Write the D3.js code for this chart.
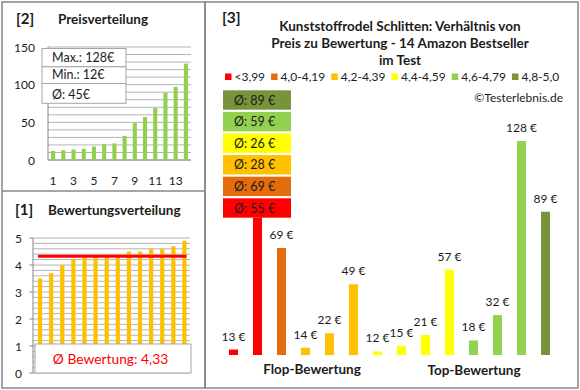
<!DOCTYPE html>
<html>
<head>
<meta charset="utf-8">
<script src="https://cdn.jsdelivr.net/npm/d3@7"></script>
<style>
  body { margin: 0; background: #fff; }
  svg { display: block; font-family: "Lato", "Open Sans", sans-serif; }
</style>
</head>
<body>
<script>
// Chart data
const sortedPrices = [12, 13, 14, 15, 18, 21, 22, 32, 49, 57, 69, 89, 97, 128];
const sortedRatings = [3.5, 3.7, 4.0, 4.2, 4.3, 4.3, 4.4, 4.4, 4.5, 4.5, 4.6, 4.6, 4.7, 4.9];
const priceTicks = [0, 50, 100, 150];
const ratingTicks = [0, 1, 2, 3, 4, 5];
const rankTickLabels = [1, 3, 5, 7, 9, 11, 13];

// products ordered by rating, with their rating class
const productPrices = [13, 97, 69, 14, 22, 49, 12, 15, 21, 57, 18, 32, 128, 89];
const productClass = [0, 0, 1, 2, 2, 2, 3, 3, 3, 3, 4, 4, 4, 5];
const classLabels = ["<3,99", "4,0-4,19", "4,2-4,39", "4,4-4,59", "4,6-4,79", "4,8-5,0"];
const classColors = ["#ff0000", "#e46c0a", "#ffc000", "#ffff00", "#92d050", "#77933c"];

const titleLines = [
    "Kunststoffrodel Schlitten: Verhältnis von",
    "Preis zu Bewertung - 14 Amazon Bestseller",
    "im Test"
];

const width = 580;
const height = 390;
const frameColor = "#878787";
const gridColor = "#b4b4b4";
const textColor = "#1c1c1c";

const svg = d3.select("body").append("svg")
    .attr("width", width)
    .attr("height", height);

// Panel frames
svg.append("rect").attr("x", 2).attr("y", 2).attr("width", 203).attr("height", 386)
    .attr("fill", "none").attr("stroke", frameColor).attr("stroke-width", 1.5);
svg.append("line").attr("x1", 2).attr("x2", 205).attr("y1", 191).attr("y2", 191)
    .attr("stroke", frameColor).attr("stroke-width", 1.5);
svg.append("rect").attr("x", 205).attr("y", 2).attr("width", 373).attr("height", 386)
    .attr("fill", "none").attr("stroke", frameColor).attr("stroke-width", 1.5);

function panelTitle(num, x, label, lx, y) {
    svg.append("text").attr("x", x).attr("y", y).text(num)
        .attr("font-size", 15).attr("font-weight", "bold").attr("fill", textColor);
    svg.append("text").attr("x", lx).attr("y", y).text(label)
        .attr("font-size", 13.5).attr("font-weight", "bold").attr("fill", textColor);
}

/**
 * [2] Preisverteilung
 */
function drawPriceDistribution() {
    panelTitle("[2]", 16, "Preisverteilung", 58, 23.5);

    const x = d3.scaleBand().domain(d3.range(sortedPrices.length))
        .range([48, 191]).paddingInner(0.6).paddingOuter(0.3);
    const y = d3.scaleLinear().domain([0, 150]).range([160, 47]);

    const g = svg.append("g");
    g.selectAll("line.grid").data(d3.range(0, 151, 10)).enter().append("line")
        .attr("x1", 48).attr("x2", 191)
        .attr("y1", (d) => y(d)).attr("y2", (d) => y(d))
        .attr("stroke", gridColor).attr("stroke-width", 1);

    g.append("line").attr("x1", 48).attr("x2", 48).attr("y1", y(150)).attr("y2", y(0))
        .attr("stroke", frameColor);
    g.append("line").attr("x1", 48).attr("x2", 191).attr("y1", y(0)).attr("y2", y(0))
        .attr("stroke", frameColor);

    g.selectAll("text.ytick").data(priceTicks).enter().append("text")
        .attr("x", 35).attr("y", (d) => y(d) + 4.5)
        .attr("text-anchor", "end").attr("font-size", 12).attr("fill", textColor)
        .text((d) => d);

    g.selectAll("text.xtick").data(rankTickLabels).enter().append("text")
        .attr("x", (d) => x(d - 1) + x.bandwidth() / 2).attr("y", 184.5)
        .attr("text-anchor", "middle").attr("font-size", 12).attr("fill", textColor)
        .text((d) => d);

    g.selectAll("rect.bar").data(sortedPrices).enter().append("rect")
        .attr("x", (d, i) => x(i)).attr("width", x.bandwidth())
        .attr("y", (d) => y(d)).attr("height", (d) => y(0) - y(d))
        .attr("fill", "#92d050");

    // statistics box
    const stats = [
        "Max.: " + d3.max(sortedPrices) + "€",
        "Min.: " + d3.min(sortedPrices) + "€",
        "Ø: " + Math.round(d3.mean(sortedPrices)) + "€"
    ];
    const rowTops = [48.5, 66.8, 83.5, 103.3];
    stats.forEach((s, i) => {
        g.append("rect").attr("x", 42).attr("y", rowTops[i])
            .attr("width", 84).attr("height", rowTops[i + 1] - rowTops[i])
            .attr("fill", "#fff").attr("stroke", "#a6a6a6").attr("stroke-width", 1);
        g.append("text").attr("x", 52).attr("y", rowTops[i + 1] - 4.5)
            .attr("font-size", 12.5).attr("fill", textColor).text(s);
    });
}

/**
 * [1] Bewertungsverteilung
 */
function drawRatingDistribution() {
    panelTitle("[1]", 15, "Bewertungsverteilung", 48, 215);

    const x = d3.scaleBand().domain(d3.range(sortedRatings.length))
        .range([34.5, 190]).paddingInner(0.62).paddingOuter(0.31);
    const y = d3.scaleLinear().domain([0, 5]).range([373, 238]);

    const g = svg.append("g");
    g.selectAll("line.grid").data(d3.range(0, 26)).enter().append("line")
        .attr("x1", 33).attr("x2", 190)
        .attr("y1", (d) => y(d / 5)).attr("y2", (d) => y(d / 5))
        .attr("stroke", gridColor).attr("stroke-width", 1);

    g.append("line").attr("x1", 33).attr("x2", 33).attr("y1", y(5)).attr("y2", y(0))
        .attr("stroke", frameColor);
    g.selectAll("line.tick").data(ratingTicks).enter().append("line")
        .attr("x1", 29.5).attr("x2", 33)
        .attr("y1", (d) => y(d)).attr("y2", (d) => y(d))
        .attr("stroke", frameColor);

    g.selectAll("text.ytick").data(ratingTicks).enter().append("text")
        .attr("x", 22).attr("y", (d) => y(d) + 4.5)
        .attr("text-anchor", "end").attr("font-size", 12).attr("fill", textColor)
        .text((d) => d);

    g.selectAll("rect.bar").data(sortedRatings).enter().append("rect")
        .attr("x", (d, i) => x(i)).attr("width", x.bandwidth())
        .attr("y", (d) => y(d)).attr("height", (d) => y(0) - y(d))
        .attr("fill", "#ffc000");

    const avg = d3.mean(sortedRatings);
    g.append("line")
        .attr("x1", x(0)).attr("x2", x(sortedRatings.length - 1) + x.bandwidth())
        .attr("y1", y(avg)).attr("y2", y(avg))
        .attr("stroke", "#ff0000").attr("stroke-width", 3);

    g.append("rect").attr("x", 35).attr("y", 344).attr("width", 156).attr("height", 29)
        .attr("fill", "#fff").attr("stroke", "#a6a6a6");
    g.append("text").attr("x", 110.5).attr("y", 363.5).attr("text-anchor", "middle")
        .attr("font-size", 13.8).attr("fill", "#ff0000")
        .text("Ø Bewertung: " + avg.toFixed(2).replace(".", ","));
}

/**
 * [3] Preis zu Bewertung
 */
function drawPriceVsRating() {
    svg.append("text").attr("x", 222).attr("y", 23).text("[3]")
        .attr("font-size", 15.5).attr("font-weight", "bold").attr("fill", textColor);

    svg.selectAll("text.title").data(titleLines).enter().append("text")
        .attr("x", 400).attr("y", (d, i) => 31 + i * 17)
        .attr("text-anchor", "middle").attr("font-size", 13.5).attr("font-weight", "bold")
        .attr("fill", textColor).text((d) => d);

    // legend, laid out left to right
    let lx = 225;
    classLabels.forEach((label, i) => {
        svg.append("rect").attr("x", lx).attr("y", 73.5).attr("width", 6.5).attr("height", 6.5)
            .attr("fill", classColors[i]);
        const t = svg.append("text").attr("x", lx + 9.5).attr("y", 81)
            .attr("font-size", 12).attr("fill", textColor).text(label);
        lx += 9.5 + t.node().getComputedTextLength() + 6;
    });

    svg.append("text").attr("x", 563).attr("y", 102).attr("text-anchor", "end")
        .attr("font-size", 12).attr("fill", textColor).text("©Testerlebnis.de");

    const x = d3.scaleBand().domain(d3.range(productPrices.length))
        .range([221.5, 557.5]).paddingInner(0.625).paddingOuter(0.3125);
    const y = d3.scaleLinear().domain([10, 128]).range([355, 141]);

    // average price per rating class, stacked from worst (bottom) to best (top)
    const classAvg = classLabels.map((c, k) =>
        Math.round(d3.mean(productPrices.filter((p, i) => productClass[i] === k))));
    const boxStep = 21.6;
    const boxBottom = 217.7;
    const boxTop = boxBottom - classAvg.length * boxStep;

    const g = svg.append("g");
    g.selectAll("rect.bar").data(productPrices).enter().append("rect")
        .attr("x", (d, i) => x(i)).attr("width", x.bandwidth())
        .attr("y", (d) => y(d)).attr("height", (d) => y(10) - y(d))
        .attr("fill", (d, i) => classColors[productClass[i]]);

    // value labels; a bar that reaches into the average boxes keeps its label hidden there
    g.selectAll("text.value").data(productPrices.map((d, i) => ({ v: d, i: i }))
            .filter((d) => y(d.v) - 9 > boxBottom || x(d.i) > 291))
        .enter().append("text")
        .attr("x", (d) => x(d.i) + x.bandwidth() / 2).attr("y", (d) => y(d.v) - 9)
        .attr("text-anchor", "middle").attr("font-size", 12).attr("fill", textColor)
        .text((d) => d.v + " €");

    g.append("rect").attr("x", 223).attr("y", boxTop).attr("width", 68)
        .attr("height", boxBottom - boxTop).attr("fill", "#fff");
    classAvg.forEach((a, k) => {
        const top = boxBottom - 19.4 - k * boxStep;
        g.append("rect").attr("x", 223).attr("y", top).attr("width", 68).attr("height", 19.4)
            .attr("fill", classColors[k]);
        g.append("text").attr("x", 234).attr("y", top + 14.3)
            .attr("font-size", 12.5).attr("fill", textColor).text("Ø: " + a + " €");
    });

    g.append("text").attr("x", 312).attr("y", 373.5).attr("text-anchor", "middle")
        .attr("font-size", 13.5).attr("font-weight", "bold").attr("fill", textColor)
        .text("Flop-Bewertung");
    g.append("text").attr("x", 474).attr("y", 374.5).attr("text-anchor", "middle")
        .attr("font-size", 13.5).attr("font-weight", "bold").attr("fill", textColor)
        .text("Top-Bewertung");
}

drawPriceDistribution();
drawRatingDistribution();
drawPriceVsRating();
</script>
</body>
</html>
